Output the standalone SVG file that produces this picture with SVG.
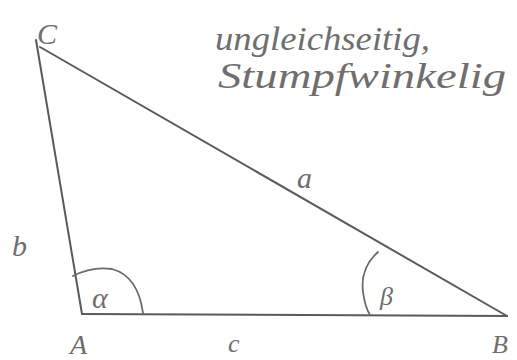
<svg xmlns="http://www.w3.org/2000/svg" width="517" height="360" viewBox="0 0 517 360">
<style>
.ln{stroke:#5a5a5a;stroke-width:2;fill:none;stroke-linecap:round}
.arc{stroke:#6a6a6a;stroke-width:1.8;fill:none;stroke-linecap:round}
.t{font-family:"Liberation Serif",serif;font-style:italic;fill:#6e6e6e}
</style>
<rect width="517" height="360" fill="#ffffff"/>
<g id="connectors">
<line class="ln" x1="36" y1="40" x2="82" y2="314"/>
<line class="ln" x1="40" y1="47" x2="507" y2="316"/>
<line class="ln" x1="82" y1="314" x2="507" y2="316"/>
</g>
<g id="angle-alpha">
<path class="arc" d="M73 276 Q92 266 112 269 Q138 276 143 313"/>
<text class="t" x="92" y="308" font-size="30">α</text>
</g>
<g id="angle-beta">
<path class="arc" d="M378 252 Q360 268 363 292 Q365 307 370 315"/>
<text class="t" x="380" y="305" font-size="26">β</text>
</g>
<g id="vertex-C"><text class="t" x="37" y="44" font-size="30">C</text></g>
<g id="vertex-A"><text class="t" x="70" y="354" font-size="28">A</text></g>
<g id="vertex-B"><text class="t" x="492" y="353" font-size="26">B</text></g>
<g id="side-a"><text class="t" x="297" y="188" font-size="30">a</text></g>
<g id="side-b"><text class="t" x="12" y="256" font-size="30">b</text></g>
<g id="side-c"><text class="t" x="228" y="352" font-size="26">c</text></g>
<g id="title">
<text class="t" x="215" y="50" font-size="34" textLength="215" lengthAdjust="spacingAndGlyphs">ungleichseitig,</text>
<text class="t" x="218" y="88" font-size="36" textLength="288" lengthAdjust="spacingAndGlyphs">Stumpfwinkelig</text>
</g>
</svg>
